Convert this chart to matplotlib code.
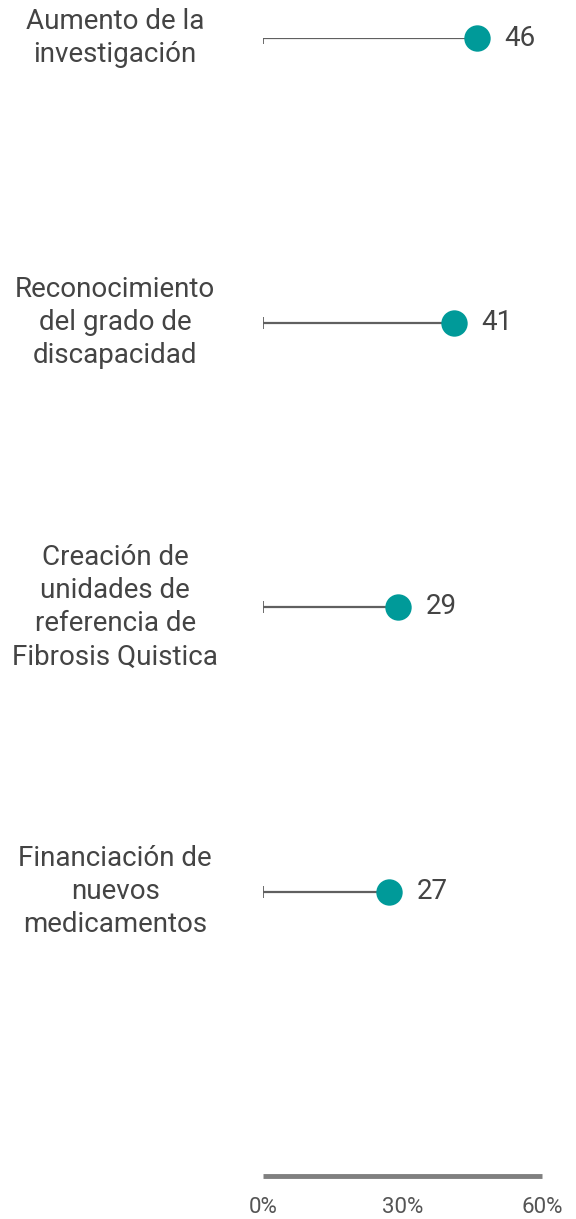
import matplotlib
matplotlib.use("Agg")
import matplotlib.pyplot as plt

categories = [
    "Aumento de la\ninvestigación",
    "Reconocimiento\ndel grado de\ndiscapacidad",
    "Creación de\nunidades de\nreferencia de\nFibrosis Quistica",
    "Financiación de\nnuevos\nmedicamentos",
]
values = [46, 41, 29, 27]
xticks = [0, 30, 60]
xtick_labels = ["0%", "30%", "60%"]

plt.rcParams['font.family'] = ['Roboto', 'DejaVu Sans']

W, H = 576, 1219
fig = plt.figure(figsize=(W / 100, H / 100), dpi=100)
x0, x1 = 263, 542
y_top, y_bot = 38, 1176
ax = fig.add_axes([x0 / W, 1 - y_bot / H, (x1 - x0) / W, (y_bot - y_top) / H])
ax.set_xlim(0, 60)
ax.set_ylim(len(categories), 0)

teal = "#009a99"
line_col = "#606060"
text_col = "#444444"

for i, (cat, v) in enumerate(zip(categories, values)):
    ax.plot([0, v], [i, i], color=line_col, lw=1.6, zorder=1, solid_capstyle='butt')
    ax.plot([0], [i], marker='|', color=line_col, markersize=8, mew=1.3, zorder=1)
    ax.plot([v], [i], marker='o', color=teal, markersize=19, mew=0, zorder=2, clip_on=False)
    ax.annotate(str(v), xy=(v, i), xytext=(20, 0), textcoords='offset points',
                ha='left', va='center', fontsize=20, color=text_col)
    ax.text(-31.8, i, cat, ha='center', va='center', fontsize=20, color=text_col,
            linespacing=1.3, transform=ax.transData, clip_on=False)

for s in ['top', 'left', 'right']:
    ax.spines[s].set_visible(False)
ax.spines['bottom'].set_color("#808080")
ax.spines['bottom'].set_linewidth(3.5)
ax.spines['bottom'].set_capstyle('butt')
ax.set_yticks([])
ax.set_xticks(xticks)
ax.set_xticklabels(xtick_labels, fontsize=16, color="#555555")
ax.tick_params(axis='x', length=0, pad=15)
ax.patch.set_visible(False)

fig.savefig("out.png", dpi=100)
